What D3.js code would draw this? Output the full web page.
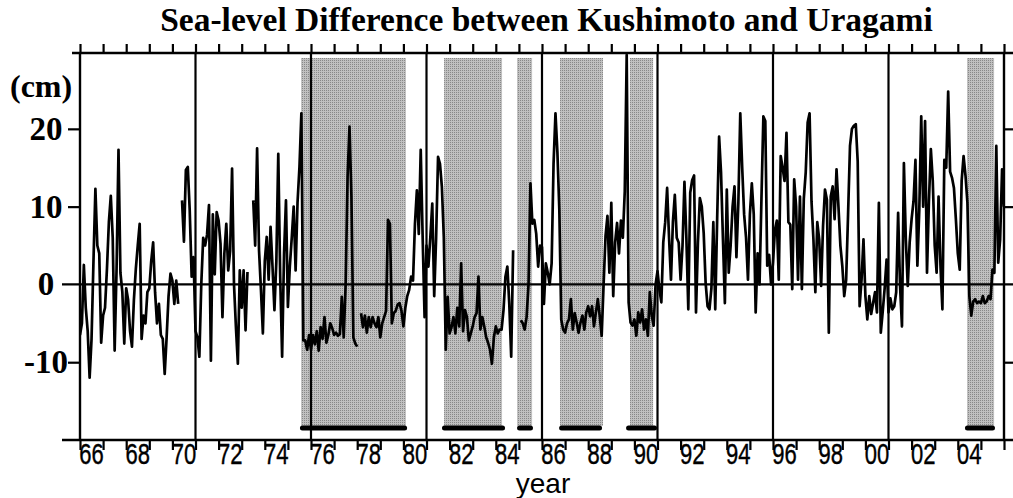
<!DOCTYPE html>
<html>
<head>
<meta charset="utf-8">
<script src="https://cdn.jsdelivr.net/npm/d3@7"></script>
<style>
  html, body { margin: 0; padding: 0; background: #fff; }
  svg { display: block; }
</style>
</head>
<body>
<svg id="chart" width="1013" height="498"></svg>
<script>
// ---------------- DATA ----------------
const titleText = "Sea-level Difference between Kushimoto and Uragami";
const yUnit = "(cm)";
const xTitle = "year";
const startYear = 1966;          // first monthly value
const yTickValues = [20, 10, 0, -10];
const yTickLabels = ["20", "10", "0", "-10"];
const xLabelYears = [1966,1968,1970,1972,1974,1976,1978,1980,1982,1984,1986,1988,1990,1992,1994,1996,1998,2000,2002,2004];
const xLabelTexts = ["66","68","70","72","74","76","78","80","82","84","86","88","90","92","94","96","98","00","02","04"];
const gridYears = [1971, 1976, 1981, 1986, 1991, 1996, 2001];
// Kuroshio large-meander periods: shaded bands and bars
const shadeStart = [1975.57, 1981.76, 1984.92, 1986.78, 1989.81, 2004.40];
const shadeEnd   = [1980.11, 1984.27, 1985.57, 1988.64, 1990.81, 2005.57];
const barStart   = [1975.52, 1981.67, 1984.92, 1986.74, 1989.64, 2004.31];
const barEnd     = [1980.16, 1984.40, 1985.61, 1988.60, 1990.98, 2005.61];
// monthly sea-level difference (cm), Jan 1966 onward; null = missing
const seaLevel = [
  -6.5,-5,2.5,-3,-6,-12,-7,3,12.3,5,4,-7.5,
  -4,-3,2,8,11.4,6,-8.5,2,17.3,1.5,-1,-7.6,
  -0.5,-2,-6,-8,-2,2,5,7.8,-7,-4,-5,-1,
  -0.5,3,5.4,-1,-5,-2.5,-6.5,-7,-11.5,-6.8,-1.5,1.4,
  0.5,-2.5,0.5,-2.5,null,10.8,5.5,14.7,15.1,9.5,1,3.5,
  -6,-6.8,-9.3,0,6,5,6.4,10.2,-9.8,9,1.3,9.3,
  8.2,5.2,-4.2,4,7.8,1.8,4.3,14.9,0,-5.5,-10.2,1.8,
  -3,1.8,-5.9,1.6,null,null,10.8,5,17.5,4.4,-0.7,-6.3,
  3,6.1,0.6,7.4,2.3,-3.3,3,16.8,1,-9.3,4,10.8,
  -2.9,2.3,6,10,1.8,10.5,15.1,22,-7.2,-7.2,-8.4,-6.5,
  -8.4,-6.5,-7.7,-6,-8.5,-5.5,-7,-4.2,-7.5,-6.5,-5,-5.6,
  -6.5,-6.2,-6.6,-6.4,-1.6,-6.8,0,13.8,20.3,11.3,-6.8,-7.6,
  -8,null,-3.7,-5.5,-4,-6.2,-4.2,-5.5,-4.2,-5,-5.5,-4.2,
  -6.8,-5,-4.2,-3.4,8.3,7.8,-5,-3.7,-3.4,-2.6,-2.4,-3.4,
  -5.4,-3,-1.5,-0.7,1,0.5,7.8,12.1,6.5,17.3,6.1,-4.2,
  5,2.3,6.1,10.4,-1.5,6,16.4,15.5,12.5,6,-8.4,-1.6,
  -6.3,-5.5,-4.2,-6.3,-3,-5.4,2.7,-6,-3.3,-4.2,-7.2,-6.3,
  -5.4,-4.2,-3.7,1,-5.8,-4.2,-5.4,-6.8,-7.5,-8.4,-10.2,-6.8,
  -5.4,-6.3,-5.8,-5.8,-3.3,1,2.3,-2.5,-9.3,4.4,null,null,
  null,-4.6,-5,-5.8,-4.2,0,13,7.8,8.3,6.5,2.3,5,
  4.8,-2.5,2.7,1.5,0,2.7,15.5,22,17,9.6,-4.5,-5.8,
  -6.2,-5,-4.5,-1.9,-5.8,-3.7,-4.9,-6.2,-4.9,-4,-5.8,-3.6,
  -2.8,-4.1,-2.8,-5.4,-3.6,-1.9,-4.1,-6.6,0,6.2,8.8,1.5,
  10.5,-1.5,5.4,7.9,4,8.2,6,12,29.5,-2.3,-4.9,-5.3,
  -4.5,-6.6,-3.6,-4.9,-3.2,-5.8,-4.5,-6.6,-1,-4,-5.3,0,
  1.7,-0.7,-2.3,5.4,8,12.4,6,0.6,8,11.5,6,5.4,
  0.6,5,13.2,6,-3.2,11.8,13.4,14,-3.6,5.4,11.1,10,
  6.6,0.2,-2.8,-3.2,-0.5,8,-3.2,8.5,19,14.4,5.8,-2.4,
  12.2,1.5,5,10,12.6,3.5,10.5,22,15,9,6,0.6,
  9,13,9,-3.6,4,0,11,21.6,21,2.4,3.8,0,
  2.8,7,8.2,0.6,16.5,15,13.3,19.5,8,7.7,-0.6,13.5,
  10,0.6,11.3,-0.6,11,14.4,20.8,22,10.7,5.8,-1,8,
  5.8,-0.2,7.5,12.2,10.9,-6.2,11.3,12.6,8.4,14.8,10,5,
  2.4,-1.5,0.6,9,17.8,20,20.4,20.6,15.8,-2.8,0.6,5.8,
  -1.5,-4.5,-1.5,-3.8,-2.4,-1,-3.6,10.5,-6.2,-3.5,-0.5,3.2,
  -3.6,-1.8,-3.2,-2.8,-1,9.2,-0.2,-5.4,15.6,5.8,-0.2,5.4,
  8.4,10.7,16,2.4,9.6,21.6,10,21,1.5,10.7,17.4,13.3,
  5,1.5,11.3,2.4,-3.2,16,15,24.8,14.5,13.7,12.4,8.4,
  4,1.9,13.3,16.5,14,10.5,-1.5,-4,-2.2,-1.9,-2.4,-2.2,
  -2.4,-1.5,-2.4,-2.2,-1.5,-1.9,1.9,1.5,17.8,2.8,5.8,14.8,
  10
];

// ---------------- LAYOUT ----------------
const L = 80, R = 1004, T = 53, B = 440;
const svg = d3.select("#chart");
const x = d3.scaleLinear().domain([1966, 2006]).range([L, R]);
const y = d3.scaleLinear().domain([-20, 29.75]).range([B, T]);
const serif = "'Liberation Serif','Times New Roman',Times,serif";
const sans = "'Liberation Sans',Arial,Helvetica,sans-serif";

// pattern for halftone shading
const defs = svg.append("defs");
const pat = defs.append("pattern").attr("id", "halftone")
  .attr("patternUnits", "userSpaceOnUse").attr("width", 2).attr("height", 2);
pat.append("rect").attr("width", 2).attr("height", 2).attr("fill", "#c0c0c0");
pat.append("rect").attr("width", 1).attr("height", 1).attr("fill", "#888888");
defs.append("clipPath").attr("id", "plotclip").append("rect")
  .attr("x", L).attr("y", T).attr("width", R - L).attr("height", B - T);

// shaded meander bands
const shadeTop = 58, shadeBottom = 426;
svg.append("g").selectAll("rect").data(d3.range(shadeStart.length)).join("rect")
  .attr("x", i => x(shadeStart[i]))
  .attr("width", i => x(shadeEnd[i]) - x(shadeStart[i]))
  .attr("y", shadeTop).attr("height", shadeBottom - shadeTop)
  .attr("fill", "url(#halftone)");

// vertical 5-year lines
svg.append("g").selectAll("line").data(gridYears).join("line")
  .attr("x1", d => x(d)).attr("x2", d => x(d))
  .attr("y1", T).attr("y2", B)
  .attr("stroke", "#000").attr("stroke-width", 2.2);

// top axis (ticks up)
const years = d3.range(1966, 2007);
const gTop = svg.append("g").attr("transform", `translate(0,${T})`)
  .call(d3.axisTop(x).tickValues(years).tickSize(9).tickSizeOuter(0).tickFormat(""));
gTop.select(".domain").remove();
// bottom axis (ticks down)
const gBot = svg.append("g").attr("transform", `translate(0,${B})`)
  .call(d3.axisBottom(x).tickValues(years).tickSize(10).tickSizeOuter(0).tickFormat(""));
gBot.select(".domain").remove();
// left axis
const gLeft = svg.append("g").attr("transform", `translate(${L},0)`)
  .call(d3.axisLeft(y).tickValues([20, 10, -10]).tickSize(12).tickSizeOuter(0).tickFormat(""));
gLeft.select(".domain").remove();
// right axis
const gRight = svg.append("g").attr("transform", `translate(${R},0)`)
  .call(d3.axisRight(y).tickValues([20, 10, -10]).tickSize(9).tickSizeOuter(0).tickFormat(""));
gRight.select(".domain").remove();
svg.selectAll(".tick line").attr("stroke", "#000").attr("stroke-width", 2.2);

// frame lines
svg.append("line").attr("x1", 72).attr("x2", 1013).attr("y1", T).attr("y2", T)
  .attr("stroke", "#000").attr("stroke-width", 2.4);
svg.append("line").attr("x1", 62).attr("x2", 1013).attr("y1", B).attr("y2", B)
  .attr("stroke", "#000").attr("stroke-width", 2.4);
svg.append("line").attr("x1", L).attr("x2", L).attr("y1", T).attr("y2", B)
  .attr("stroke", "#000").attr("stroke-width", 2.4);
svg.append("line").attr("x1", R).attr("x2", R).attr("y1", T).attr("y2", B)
  .attr("stroke", "#000").attr("stroke-width", 2.4);
// zero line
svg.append("line").attr("x1", 62).attr("x2", 1013).attr("y1", y(0)).attr("y2", y(0))
  .attr("stroke", "#000").attr("stroke-width", 2.2);

// data line
const data = seaLevel.map((v, i) => ({ t: startYear + i / 12, v }));
const line = d3.line().defined(d => d.v !== null)
  .x(d => x(d.t)).y(d => y(d.v));
svg.append("path").datum(data)
  .attr("clip-path", "url(#plotclip)")
  .attr("d", line).attr("fill", "none")
  .attr("stroke", "#000").attr("stroke-width", 2.7)
  .attr("stroke-linejoin", "round");

// meander bars
svg.append("g").selectAll("rect").data(d3.range(barStart.length)).join("rect")
  .attr("x", i => x(barStart[i]))
  .attr("width", i => x(barEnd[i]) - x(barStart[i]))
  .attr("y", 425.5).attr("height", 5).attr("rx", 2.5)
  .attr("fill", "#000");

// y tick labels
svg.append("g").selectAll("text").data(yTickValues).join("text")
  .attr("x", 46).attr("y", d => y(d) + 11)
  .attr("text-anchor", "middle")
  .attr("font-family", serif).attr("font-weight", "bold").attr("font-size", 33)
  .text((d, i) => yTickLabels[i]);
svg.append("text").attr("x", 10).attr("y", 97)
  .attr("font-family", serif).attr("font-weight", "bold").attr("font-size", 32)
  .text(yUnit);

// x tick labels (placed in the year interval)
svg.append("g").selectAll("text").data(xLabelYears).join("text")
  .attr("transform", d => `translate(${x(d + 0.5)},464) scale(0.76,1)`)
  .attr("text-anchor", "middle")
  .attr("font-family", sans).attr("font-size", 29)
  .attr("stroke", "#000").attr("stroke-width", 0.4)
  .text((d, i) => xLabelTexts[i]);
svg.append("text").attr("x", 543).attr("y", 493)
  .attr("text-anchor", "middle")
  .attr("font-family", sans).attr("font-size", 28)
  .text(xTitle);

// title
svg.append("text").attr("x", 546.5).attr("y", 31)
  .attr("text-anchor", "middle")
  .attr("font-family", serif).attr("font-weight", "bold").attr("font-size", 33.5)
  .text(titleText);
</script>
</body>
</html>
